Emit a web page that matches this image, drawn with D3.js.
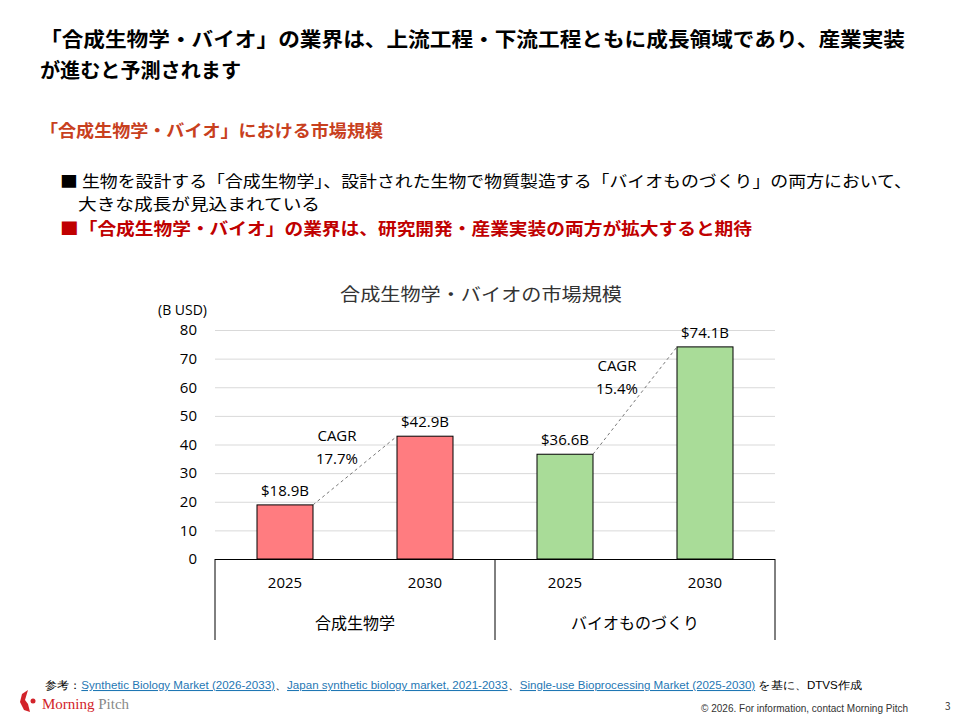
<!DOCTYPE html>
<html><head><meta charset="utf-8">
<script src="https://cdn.jsdelivr.net/npm/d3@7"></script>
<style>body{margin:0;background:#fff;font-family:"Noto Sans CJK JP","Noto Sans",sans-serif}</style>
</head><body><svg id="c" width="960" height="720"></svg>
<script>
const groups = ["合成生物学","バイオものづくり"];
const years = ["2025","2030"];
const values = [18.9, 42.9, 36.6, 74.1];
const labels = ["$18.9B","$42.9B","$36.6B","$74.1B"];
const cagr = ["17.7%","15.4%"];
const yTicks = [0,10,20,30,40,50,60,70,80];
const colors = ["#FF7C80","#A9DC98"];

const svg = d3.select("#c");
const F = '"Noto Sans CJK JP",sans-serif';
function txt(x,yy,s,size,w,len,fill){
  const t=svg.append("text").attr("x",x).attr("y",yy).attr("font-size",size).attr("font-weight",w||400)
   .attr("font-family",F).attr("fill",fill||"#000").text(s);
  if(len) t.attr("textLength",len).attr("lengthAdjust","spacingAndGlyphs");
  return t;
}
txt(40,47,"「合成生物学・バイオ」の業界は、上流工程・下流工程ともに成長領域であり、産業実装",20,700,865);
txt(40,78,"が進むと予測されます",20,700,201);
txt(40,137,"「合成生物学・バイオ」における市場規模",17,700,343,"#C8401E");
txt(60,187,"■ 生物を設計する「合成生物学」、設計された生物で物質製造する「バイオものづくり」の両方において、",16,400,852);
txt(78,210,"大きな成長が見込まれている",16,400,242);
txt(60,235,"■「合成生物学・バイオ」の業界は、研究開発・産業実装の両方が拡大すると期待",17,700,692,"#C00000");

const x0 = 215, x1 = 775;
const y = d3.scaleLinear().domain([0,80]).range([559,330]);
const x = d3.scaleBand().domain(d3.range(4)).range([x0,x1]);
const bw = 56;
const O = "Open Sans, sans-serif";

txt(340,301,"合成生物学・バイオの市場規模",18,400,282,"#333");
svg.append("text").attr("x",158).attr("y",315).attr("font-size",14).attr("font-family",O).text("(B USD)");

const yAxis = d3.axisLeft(y).tickValues(yTicks).tickSize(-(x1-x0)).tickPadding(18);
const ga = svg.append("g").attr("transform",`translate(${x0},0)`).call(yAxis);
ga.select(".domain").remove();
ga.selectAll(".tick line").attr("stroke","#d9d9d9");
ga.selectAll(".tick text").attr("font-size",15).attr("font-family",O).attr("fill","#000");
ga.selectAll(".tick").filter(d=>d===0).select("line").attr("stroke","#000");

svg.selectAll("rect.bar").data(values).join("rect")
  .attr("x",(d,i)=>x(i)+x.bandwidth()/2-bw/2).attr("y",d=>y(d))
  .attr("width",bw).attr("height",d=>y(0)-y(d))
  .attr("fill",(d,i)=>colors[Math.floor(i/2)]).attr("stroke","#000").attr("stroke-width",1);
svg.selectAll("text.lab").data(values).join("text")
  .attr("x",(d,i)=>x(i)+x.bandwidth()/2).attr("y",d=>y(d)-9)
  .attr("text-anchor","middle").attr("font-size",15).attr("font-family",O)
  .text((d,i)=>labels[i]);

[0,1].forEach(g=>{
  const a=2*g,b=2*g+1;
  svg.append("line").attr("x1",x(a)+x.bandwidth()/2+bw/2).attr("y1",y(values[a]))
    .attr("x2",x(b)+x.bandwidth()/2-bw/2).attr("y2",y(values[b]))
    .attr("stroke","#777").attr("stroke-dasharray","3,3");
  const cx=(x(a)+x(b)+x.bandwidth())/2, cy=(y(values[a])+y(values[b]))/2;
  svg.append("text").attr("x",cx-18).attr("y",cy-30).attr("text-anchor","middle").attr("font-size",15).attr("font-family",O).text("CAGR");
  svg.append("text").attr("x",cx-18).attr("y",cy-7).attr("text-anchor","middle").attr("font-size",15).attr("font-family",O).text(cagr[g]);
});

years.concat(years).forEach((t,i)=>svg.append("text").attr("x",x(i)+x.bandwidth()/2).attr("y",588).attr("text-anchor","middle").attr("font-size",15).attr("font-family",O).text(t));
[x0,(x0+x1)/2,x1].forEach(v=>svg.append("line").attr("x1",v).attr("x2",v).attr("y1",559).attr("y2",640).attr("stroke","#000"));
groups.forEach((g,i)=>svg.append("text").attr("x",x0+(x1-x0)/4*(2*i+1)).attr("y",629).attr("text-anchor","middle").attr("font-size",16).attr("font-family",F).text(g));

const ft = svg.append("text").attr("x",45).attr("y",689).attr("font-size",10.5).attr("font-family","Liberation Sans Narrow, Liberation Sans, sans-serif")
  .attr("textLength",817).attr("lengthAdjust","spacingAndGlyphs");
ft.append("tspan").text("参考：");
ft.append("tspan").attr("fill","#1F77B4").attr("text-decoration","underline").text("Synthetic Biology Market (2026-2033)");
ft.append("tspan").text("、");
ft.append("tspan").attr("fill","#1F77B4").attr("text-decoration","underline").text("Japan synthetic biology market, 2021-2033");
ft.append("tspan").text("、");
ft.append("tspan").attr("fill","#1F77B4").attr("text-decoration","underline").text("Single-use Bioprocessing Market (2025-2030)");
ft.append("tspan").text(" を基に、DTVS作成");
svg.append("path").attr("d","M28,690 L22,694 L20,702 L24,710 L30,712 L28,704 L25,700 Z").attr("fill","#D2232A");
svg.append("circle").attr("cx",33).attr("cy",701).attr("r",2.5).attr("fill","#D2232A");
svg.append("text").attr("x",42).attr("y",709).attr("font-size",15).attr("font-family","Liberation Serif, serif").attr("fill","#D2232A").text("Morning").append("tspan").attr("fill","#888").text(" Pitch");
svg.append("text").attr("x",908).attr("y",712).attr("text-anchor","end").attr("font-size",10).attr("font-family","Liberation Sans Narrow, sans-serif").attr("fill","#333").text("© 2026. For information, contact Morning Pitch");
svg.append("text").attr("x",945).attr("y",710).attr("font-size",10).attr("fill","#333").text("3");
</script></body></html>
